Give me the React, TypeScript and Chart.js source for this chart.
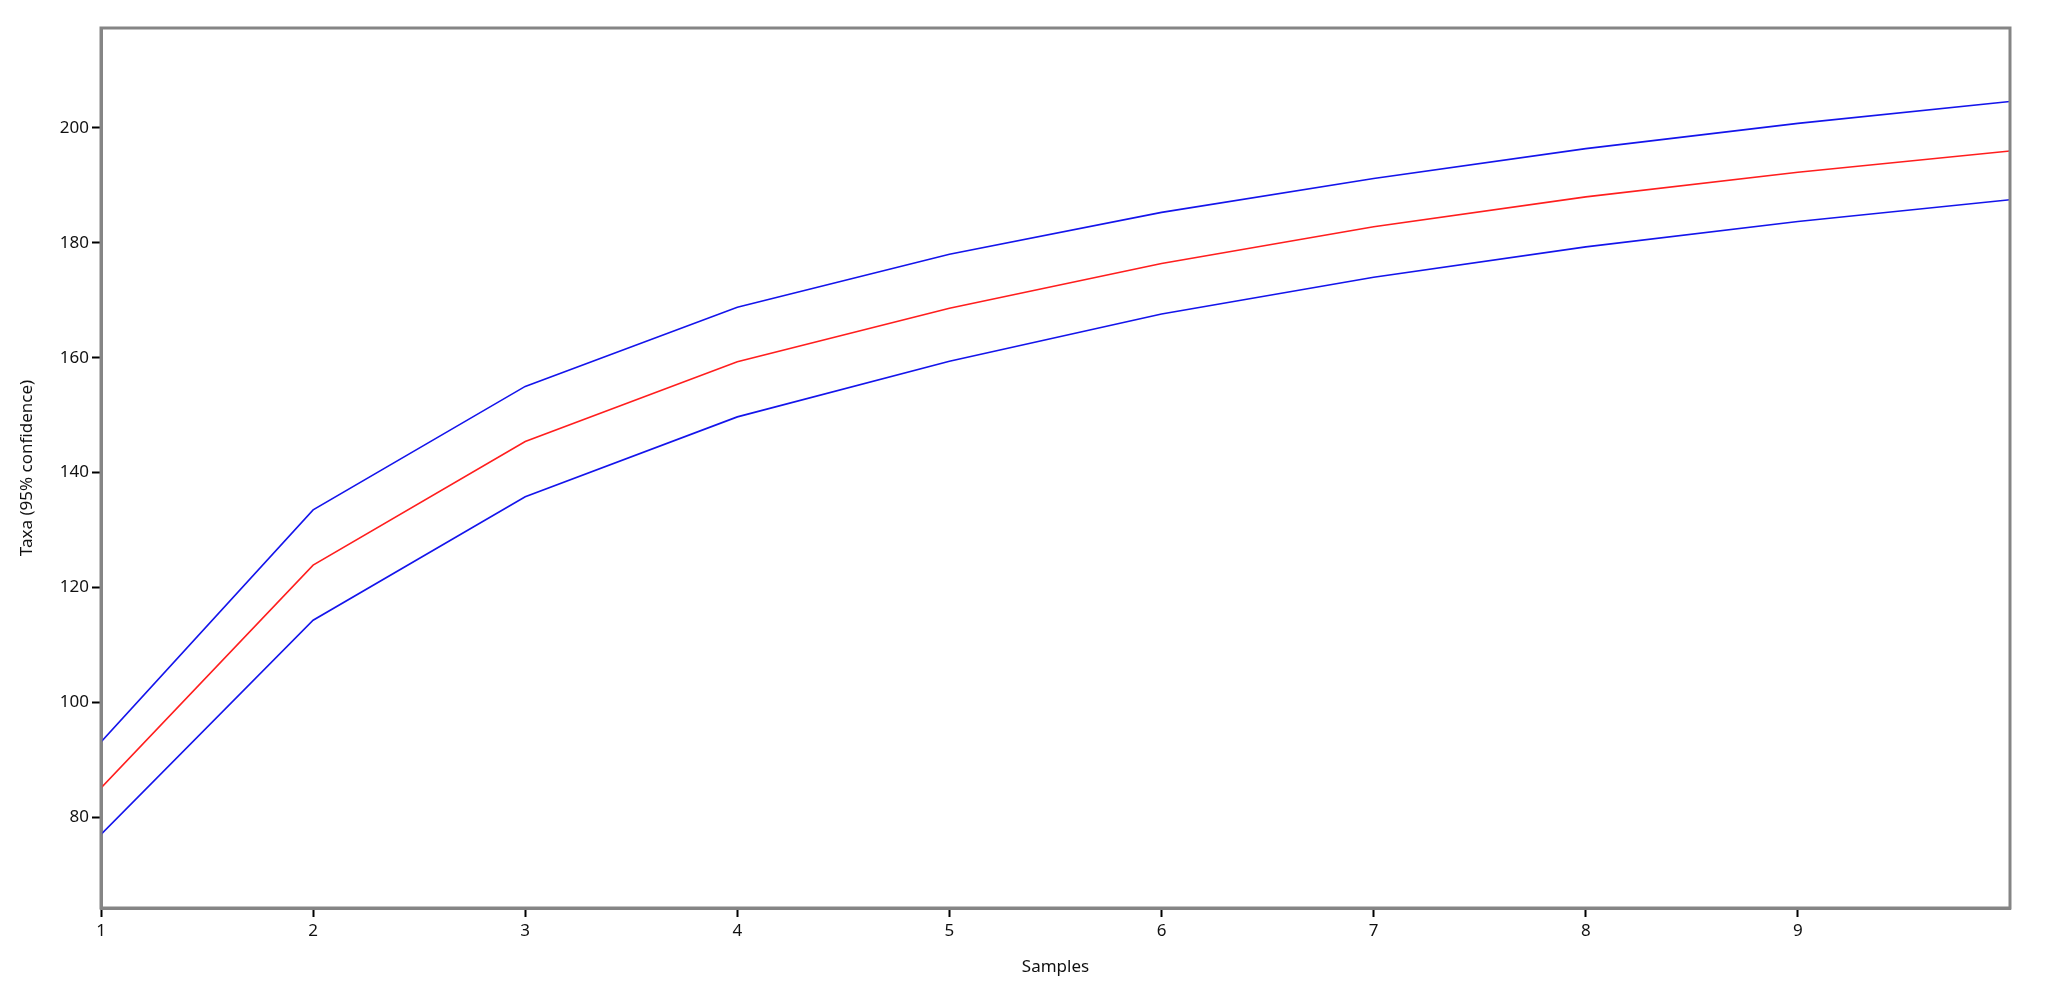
import React, { useEffect, useRef } from "react";
import { Chart, registerables } from "chart.js";

Chart.register(...registerables);

const samples = [1, 2, 3, 4, 5, 6, 7, 8, 9, 10];
const upperBound = [93.1, 133.5, 155.0, 168.8, 178.0, 185.3, 191.2, 196.4, 200.8, 204.6];
const taxaMean = [85.1, 123.9, 145.4, 159.3, 168.6, 176.4, 182.8, 188.0, 192.3, 196.0];
const lowerBound = [77.0, 114.3, 135.8, 149.7, 159.4, 167.6, 174.0, 179.3, 183.7, 187.5];
const xTickValues = [1, 2, 3, 4, 5, 6, 7, 8, 9];
const yTickValues = [80, 100, 120, 140, 160, 180, 200];

const W = 2045;
const H = 1006;
const FONT = "'Noto Sans', 'DejaVu Sans', sans-serif";

const frame = {
  id: "frame",
  afterDraw(chart: any) {
    const { ctx, chartArea } = chart;
    ctx.save();
    ctx.strokeStyle = "#858585";
    ctx.lineWidth = 3;
    ctx.strokeRect(chartArea.left, chartArea.top, chartArea.right - chartArea.left, chartArea.bottom - chartArea.top);
    ctx.restore();
  },
};

export default function App() {
  const ref = useRef<HTMLCanvasElement | null>(null);
  useEffect(() => {
    if (!ref.current) return;
    const mk = (vals: number[]) => samples.map((x, i) => ({ x, y: vals[i] }));
    const chart = new Chart(ref.current, {
      type: "line",
      data: {
        datasets: [
          { label: "upper", data: mk(upperBound), borderColor: "rgb(20,20,235)", borderWidth: 1.6, pointRadius: 0, tension: 0, fill: false },
          { label: "taxa", data: mk(taxaMean), borderColor: "rgb(255,30,30)", borderWidth: 1.6, pointRadius: 0, tension: 0, fill: false },
          { label: "lower", data: mk(lowerBound), borderColor: "rgb(20,20,235)", borderWidth: 1.6, pointRadius: 0, tension: 0, fill: false },
        ],
      },
      options: {
        responsive: false,
        animation: false,
        events: [],
        layout: { padding: { top: 28, right: 35, bottom: 29, left: 17 } },
        plugins: { legend: { display: false }, tooltip: { enabled: false } },
        scales: {
          x: {
            type: "linear",
            min: 1,
            max: 10,
            afterBuildTicks: (s: any) => {
              s.ticks = xTickValues.map((v) => ({ value: v }));
            },
            afterFit: (s: any) => {
              s.height = 69;
            },
            ticks: { color: "#111", font: { family: FONT, size: 17 }, padding: 4, maxRotation: 0, autoSkip: false },
            grid: { display: true, drawOnChartArea: false, drawTicks: true, tickLength: 9, tickColor: "#000", tickWidth: 2 },
            border: { display: true, color: "#858585", width: 3 },
            title: { display: true, text: "Samples", color: "#111", font: { family: FONT, size: 17 }, padding: 0 },
          },
          y: {
            type: "linear",
            min: 64.2,
            max: 217.4,
            afterBuildTicks: (s: any) => {
              s.ticks = yTickValues.map((v) => ({ value: v }));
            },
            afterFit: (s: any) => {
              s.width = 84;
            },
            ticks: { color: "#111", font: { family: FONT, size: 17 }, padding: 3, autoSkip: false },
            grid: { display: true, drawOnChartArea: false, drawTicks: true, tickLength: 9, tickColor: "#000", tickWidth: 2 },
            border: { display: true, color: "#858585", width: 3 },
            title: { display: true, text: "Taxa (95% confidence)", color: "#111", font: { family: FONT, size: 17 }, padding: 0 },
          },
        },
      },
      plugins: [frame],
    });
    return () => chart.destroy();
  }, []);
  return (
    <div style={{ position: "fixed", left: 0, top: 0, width: W, height: H, background: "#fff" }}>
      <canvas ref={ref} width={W} height={H} style={{ display: "block", width: W, height: H }} />
    </div>
  );
}
